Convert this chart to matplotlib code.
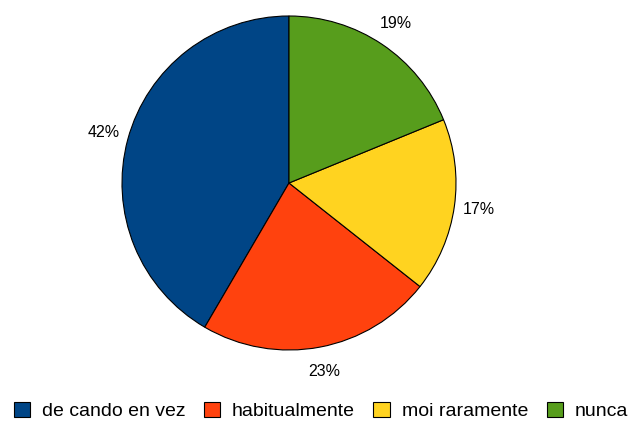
import matplotlib
matplotlib.use("Agg")
import matplotlib.pyplot as plt

plt.rcParams['font.family'] = ['Liberation Sans', 'DejaVu Sans']

categories = ['de cando en vez', 'habitualmente', 'moi raramente', 'nunca']
values = [42, 23, 17, 19]
colors = ['#004586', '#ff420e', '#ffd320', '#579d1c']

fig = plt.figure(figsize=(6.34, 4.21), dpi=100)
ax = fig.add_axes([(289 - 167) / 634, (421 - 350) / 421, 334 / 634, 334 / 421])

wedges, texts = ax.pie(values, colors=colors, startangle=90, counterclock=True,
                       labels=[f'{v}%' for v in values], labeldistance=1.15,
                       wedgeprops=dict(edgecolor='black', linewidth=0.8),
                       textprops=dict(fontsize=11.5))
for t in texts:
    t.set_ha('center')
    t.set_va('center')
ax.set_xlim(-1, 1)
ax.set_ylim(-1, 1)
ax.set_aspect('equal')

fig.legend(wedges, categories, loc='lower center', bbox_to_anchor=(0.506, -0.04),
           ncol=4, frameon=False, fontsize=14, handlelength=0.85, handleheight=0.85,
           handletextpad=0.6, columnspacing=0.95)

fig.savefig('out.png', dpi=100)
